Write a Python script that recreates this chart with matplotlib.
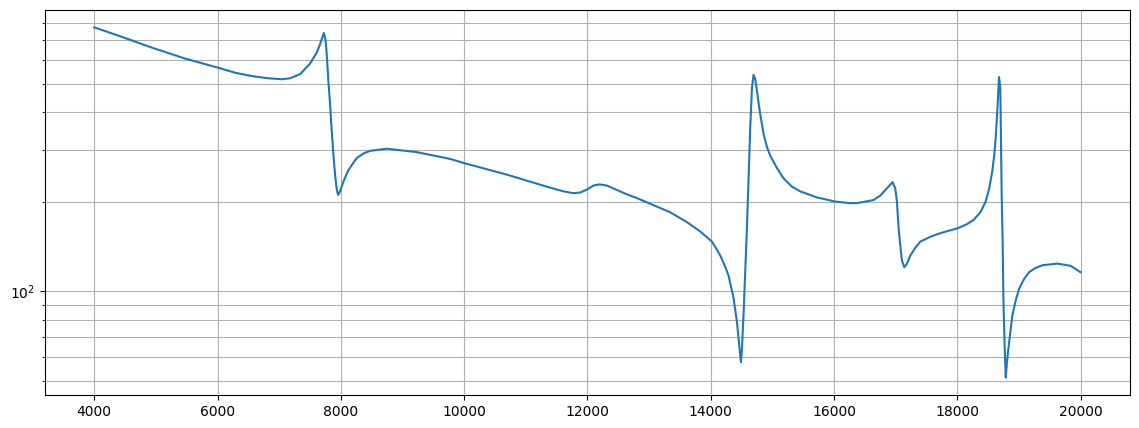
import matplotlib
matplotlib.use("Agg")
import matplotlib.pyplot as plt
from matplotlib.ticker import NullFormatter

# values
freq = [
    4000, 4390, 4931, 5472, 6000, 6283, 6554, 6824, 7041, 7176, 7339, 7500,
    7609, 7663, 7723, 7749, 7771, 7797, 7825, 7852, 7879, 7906, 7933, 7955,
    7987, 8041, 8122, 8258, 8366, 8474, 8745, 9232, 9773, 10000, 10693,
    11342, 11611, 11773, 11882, 11991, 12098, 12195, 12315, 12423, 12531,
    12640, 12802, 13072, 13343, 13614, 13830, 14020, 14101, 14155, 14235,
    14289, 14370, 14425, 14490, 14507, 14534, 14562, 14587, 14613, 14641,
    14669, 14695, 14720, 14750, 14776, 14803, 14831, 14858, 14912, 14966,
    15074, 15182, 15318, 15452, 15723, 16021, 16264, 16372, 16642, 16750,
    16858, 16950, 16994, 17021, 17048, 17075, 17102, 17140, 17183, 17237,
    17318, 17400, 17562, 17724, 18005, 18150, 18265, 18379, 18460, 18514,
    18567, 18600, 18623, 18655, 18677, 18698, 18709, 18720, 18737, 18747,
    18768, 18786, 18806, 18828, 18860, 18893, 18947, 19002, 19083, 19164,
    19272, 19380, 19618, 19834, 20000,
]
magnitude = [
    773, 725, 661, 607, 566, 544, 530, 521, 517, 521, 538, 584,
    636, 679, 740, 706, 628, 510, 426, 346, 288, 247, 220, 211,
    217, 234, 256, 281, 291, 297, 302, 294, 279, 270, 247,
    225, 217, 214, 215, 220, 227, 229, 227, 222, 217,
    212, 206, 195, 184.5, 171, 159, 147, 138, 132, 121,
    113, 95, 79, 57.7, 64, 85, 119, 163, 240, 355,
    484, 535, 520, 475, 430, 395, 364, 338, 306, 286,
    260, 240, 225, 217, 207, 200.5, 198, 198, 203, 210,
    222, 233, 222, 200.5, 163, 143, 127, 120.5, 124, 132,
    140, 147, 152.6, 157, 163, 168, 174, 185, 200.5, 220,
    253, 288, 328, 426, 526, 484, 312, 211, 143, 97,
    65.7, 51.3, 57.7, 64, 73, 83, 93, 102, 110, 116,
    120, 122.4, 124, 122, 116,
]


def main():
    fig = plt.figure(figsize=(11.39, 4.28), dpi=100)
    ax = fig.add_axes([0.0395, 0.077, 0.9525, 0.9])

    ax.plot(freq, magnitude)
    ax.set_yscale("log")
    ax.yaxis.set_minor_formatter(NullFormatter())
    ax.grid(which="both")

    fig.savefig("out.png")


if __name__ == "__main__":
    main()
